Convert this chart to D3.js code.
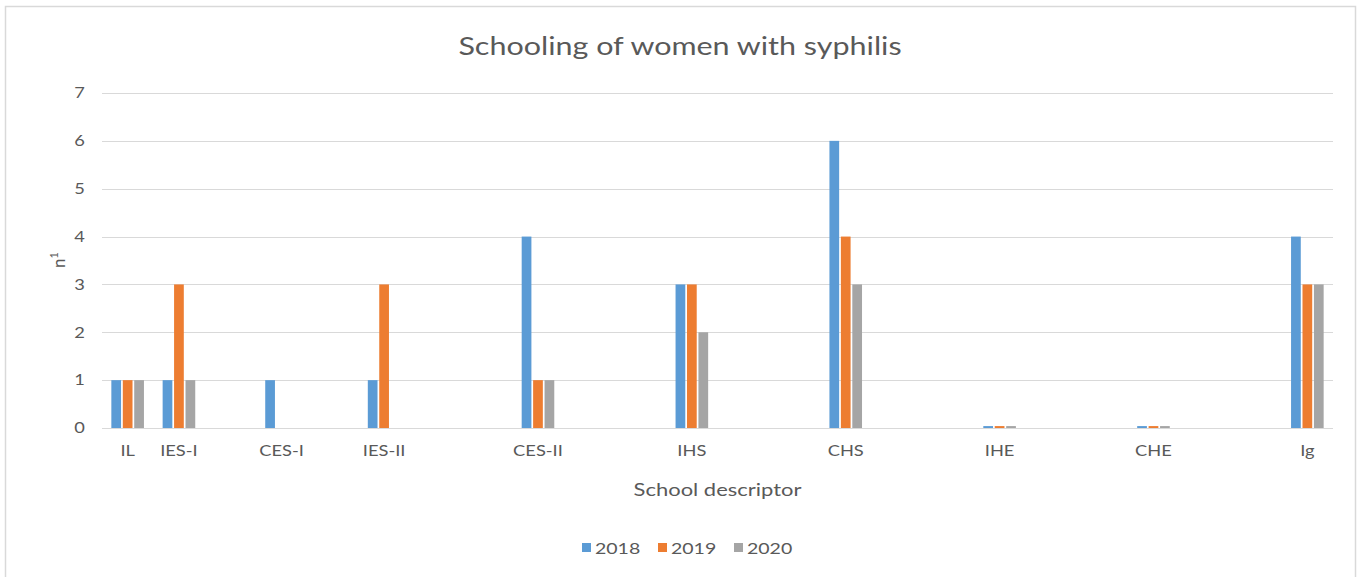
<!DOCTYPE html>
<html>
<head>
<meta charset="utf-8">
<script src="https://cdn.jsdelivr.net/npm/d3@7"></script>
<style>
  body { margin: 0; background: #fff; }
  text { font-family: Lato, "Open Sans", sans-serif; fill: #595959; }
</style>
</head>
<body>
<svg id="chart" width="1360" height="577"></svg>
<script>
// categories, blank slots are empty rows in the source sheet
const categories = ["IL", "IES-I", "", "CES-I", "", "IES-II", "", "", "CES-II", "", "", "IHS", "", "", "CHS", "", "", "IHE", "", "", "CHE", "", "", "Ig"];
const seriesNames = ["2018", "2019", "2020"];
const values2018 = [1, 1, null, 1, null, 1, null, null, 4, null, null, 3, null, null, 6, null, null, 0.04, null, null, 0.04, null, null, 4];
const values2019 = [1, 3, null, 0, null, 3, null, null, 1, null, null, 3, null, null, 4, null, null, 0.04, null, null, 0.04, null, null, 3];
const values2020 = [1, 1, null, 0, null, 0, null, null, 1, null, null, 2, null, null, 3, null, null, 0.04, null, null, 0.04, null, null, 3];
const yTicks = [0, 1, 2, 3, 4, 5, 6, 7];
const colors = ["#5b9bd5", "#ed7d31", "#a5a5a5"];

const series = [values2018, values2019, values2020];
const stretch = 1.22; // source picture text is wide

const svg = d3.select("#chart");
const margin = { top: 93, right: 27, bottom: 149, left: 102 },
    width = 1360 - margin.left - margin.right,
    height = 577 - margin.top - margin.bottom;

// chart border
svg.append("rect")
    .attr("x", 5.5).attr("y", 6.5)
    .attr("width", 1350).attr("height", 580)
    .attr("fill", "none")
    .attr("stroke", "#d9d9d9")
    .attr("stroke-width", 1.5);

svg.append("text")
    .attr("transform", "translate(680,55) scale(" + stretch + ",1)")
    .attr("text-anchor", "middle")
    .attr("font-size", "25px")
    .text("Schooling of women with syphilis");

const g = svg.append("g")
    .attr("transform", "translate(" + margin.left + "," + margin.top + ")");

const x0 = d3.scaleBand()
    .domain(d3.range(categories.length))
    .range([0, width])
    .padding(0);

const x1 = d3.scaleBand()
    .domain(d3.range(seriesNames.length))
    .range([-16.3, 16.3])
    .paddingInner(0.15);

const y = d3.scaleLinear()
    .domain([0, 7])
    .range([height, 0]);

// gridlines
g.append("g")
    .selectAll("line")
    .data(yTicks)
    .join("line")
    .attr("x1", 0).attr("x2", width)
    .attr("y1", d => Math.round(y(d)) + 0.5)
    .attr("y2", d => Math.round(y(d)) + 0.5)
    .attr("stroke", "#d9d9d9")
    .attr("stroke-width", 1);

// y axis labels
let yAxis = g.append("g")
    .call(d3.axisLeft(y).tickValues(yTicks).tickSize(0).tickPadding(14).tickFormat(d3.format("d")));
yAxis.select(".domain").remove();
yAxis.selectAll(".tick text")
    .attr("font-size", "15px")
    .attr("font-family", "Lato, 'Open Sans', sans-serif")
    .attr("fill", "#595959")
    .attr("transform", "scale(" + stretch + ",1)");

// bars
series.forEach((vals, si) => {
    g.append("g")
        .selectAll("rect")
        .data(vals.map((v, i) => ({ i, v })).filter(d => d.v !== null && d.v > 0))
        .join("rect")
        .attr("x", d => x0(d.i) + x0.bandwidth() / 2 + x1(si))
        .attr("width", x1.bandwidth())
        .attr("y", d => y(d.v))
        .attr("height", d => height - y(d.v))
        .attr("fill", colors[si]);
});

// x axis labels
let xAxis = g.append("g")
    .attr("transform", "translate(0," + height + ")")
    .call(d3.axisBottom(x0).tickSize(0).tickPadding(17).tickFormat(i => categories[i]));
xAxis.select(".domain").remove();
xAxis.selectAll(".tick text")
    .attr("font-size", "15px")
    .attr("font-family", "Lato, 'Open Sans', sans-serif")
    .attr("fill", "#595959")
    .attr("transform", "scale(" + stretch + ",1)");

// axis titles
svg.append("text")
    .attr("transform", "translate(" + (margin.left + width / 2) + ",496) scale(" + stretch + ",1)")
    .attr("text-anchor", "middle")
    .attr("font-size", "18px")
    .text("School descriptor");

let yTitle = svg.append("text")
    .attr("transform", "translate(65,260) rotate(-90)")
    .attr("text-anchor", "middle")
    .attr("font-size", "17px");
yTitle.append("tspan").text("n");
yTitle.append("tspan").attr("dy", -7).attr("font-size", "11px").text("1");

// legend
const legend = svg.append("g").attr("transform", "translate(582,548)");
let xtrans = 0;
seriesNames.forEach((name, i) => {
    let lg = legend.append("g").attr("transform", "translate(" + xtrans + ",0)");
    lg.append("rect")
        .attr("x", 0).attr("y", -5)
        .attr("width", 9).attr("height", 9)
        .attr("fill", colors[i]);
    lg.append("text")
        .attr("transform", "translate(13,6) scale(" + stretch + ",1)")
        .attr("font-size", "16px")
        .text(name);
    xtrans += 76;
});
</script>
</body>
</html>
